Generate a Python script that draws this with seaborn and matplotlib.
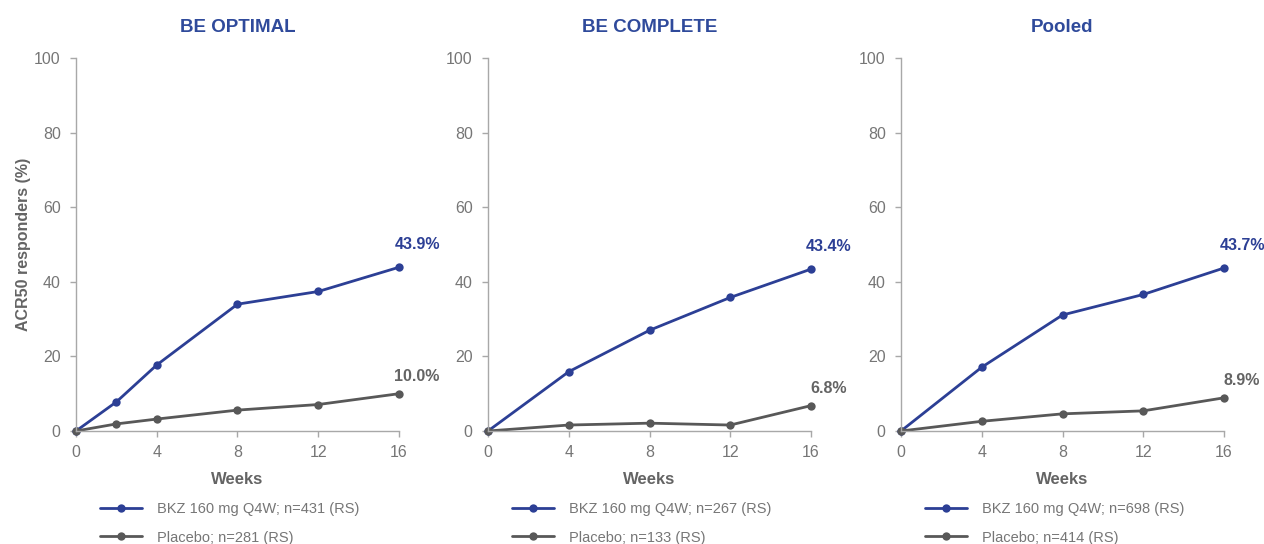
import matplotlib
matplotlib.use("Agg")
import matplotlib.pyplot as plt
import seaborn as sns
import pandas as pd

# ACR50 response over time, by study
panels = ["BE OPTIMAL", "BE COMPLETE", "Pooled"]

weeks_optimal = [0, 2, 4, 8, 12, 16]
bkz_optimal = [0.0, 7.8, 17.7, 34.0, 37.4, 43.9]
pbo_optimal = [0.0, 1.9, 3.2, 5.6, 7.1, 10.0]

weeks_complete = [0, 4, 8, 12, 16]
bkz_complete = [0.0, 15.9, 27.0, 35.8, 43.4]
pbo_complete = [0.0, 1.6, 2.1, 1.6, 6.8]

weeks_pooled = [0, 4, 8, 12, 16]
bkz_pooled = [0.0, 17.1, 31.1, 36.6, 43.7]
pbo_pooled = [0.0, 2.6, 4.6, 5.4, 8.9]

bkz_labels = ["BKZ 160 mg Q4W; n=431 (RS)", "BKZ 160 mg Q4W; n=267 (RS)",
              "BKZ 160 mg Q4W; n=698 (RS)"]
pbo_labels = ["Placebo; n=281 (RS)", "Placebo; n=133 (RS)", "Placebo; n=414 (RS)"]

xticks = [0, 4, 8, 12, 16]
yticks = [0, 20, 40, 60, 80, 100]

series = [
    (weeks_optimal, bkz_optimal, pbo_optimal),
    (weeks_complete, bkz_complete, pbo_complete),
    (weeks_pooled, bkz_pooled, pbo_pooled),
]

BLUE = "#2c3f95"
TITLE_BLUE = "#2f4a9b"
GREY = "#585858"
LABEL_GREY = "#646464"
TICK_GREY = "#767676"
SPINE_GREY = "#a8a8a8"

sns.set_theme(style="white")
plt.rcParams["font.family"] = ["Liberation Sans", "DejaVu Sans"]

W, H = 1264, 544
fig = plt.figure(figsize=(W / 100, H / 100), dpi=100)

lefts = [76, 488, 901]
ax_w, top_px, bot_px = 323, 58, 431

for i, name in enumerate(panels):
    weeks, bkz, pbo = series[i]
    ax = fig.add_axes([lefts[i] / W, 1 - bot_px / H, ax_w / W, (bot_px - top_px) / H])
    df = pd.DataFrame({
        "Week": list(weeks) + list(weeks),
        "Response": list(bkz) + list(pbo),
        "Arm": [bkz_labels[i]] * len(weeks) + [pbo_labels[i]] * len(weeks),
    })
    sns.lineplot(data=df, x="Week", y="Response", hue="Arm",
                 palette=[BLUE, GREY], marker="o", markersize=6,
                 markeredgewidth=0, linewidth=2.0, clip_on=False, ax=ax)

    ax.set_xlim(0, 16)
    ax.set_ylim(0, 100)
    ax.set_xticks(xticks)
    ax.set_yticks(yticks)
    for side in ("top", "right"):
        ax.spines[side].set_visible(False)
    for side in ("left", "bottom"):
        ax.spines[side].set_color(SPINE_GREY)
        ax.spines[side].set_linewidth(1.0)
    ax.tick_params(axis="both", which="major", direction="out", length=4,
                   width=1.0, color=SPINE_GREY, labelcolor=TICK_GREY,
                   labelsize=11.5, bottom=True, left=True)
    ax.tick_params(axis="y", pad=7)
    ax.tick_params(axis="x", pad=6)

    ax.set_title(name, color=TITLE_BLUE, fontsize=13.5, fontweight="bold", pad=19)
    ax.set_xlabel("Weeks", color=LABEL_GREY, fontsize=12, fontweight="bold", labelpad=9)
    if i == 0:
        ax.set_ylabel("ACR50 responders (%)", color=LABEL_GREY, fontsize=11.5,
                      fontweight="bold", labelpad=2)
    else:
        ax.set_ylabel("")

    # end-of-study values
    ax.annotate(f"{bkz[-1]:.1f}%", xy=(weeks[-1], bkz[-1]), xytext=(13, 13),
                textcoords="offset points", ha="center", va="baseline",
                color=BLUE, fontsize=11.5, fontweight="bold", annotation_clip=False)
    ax.annotate(f"{pbo[-1]:.1f}%", xy=(weeks[-1], pbo[-1]), xytext=(13, 9),
                textcoords="offset points", ha="center", va="baseline",
                color=LABEL_GREY, fontsize=11.5, fontweight="bold", annotation_clip=False)

    handles, labels = ax.get_legend_handles_labels()
    ax.legend(handles, labels, loc="upper left",
              bbox_to_anchor=((lefts[i] + 24) / W, 1 - 502 / H),
              bbox_transform=fig.transFigure, frameon=False, fontsize=10.5,
              labelcolor=TICK_GREY, handlelength=2.9, handletextpad=1.0,
              labelspacing=1.0, borderpad=0, borderaxespad=0)

fig.savefig("out.png", dpi=100)
